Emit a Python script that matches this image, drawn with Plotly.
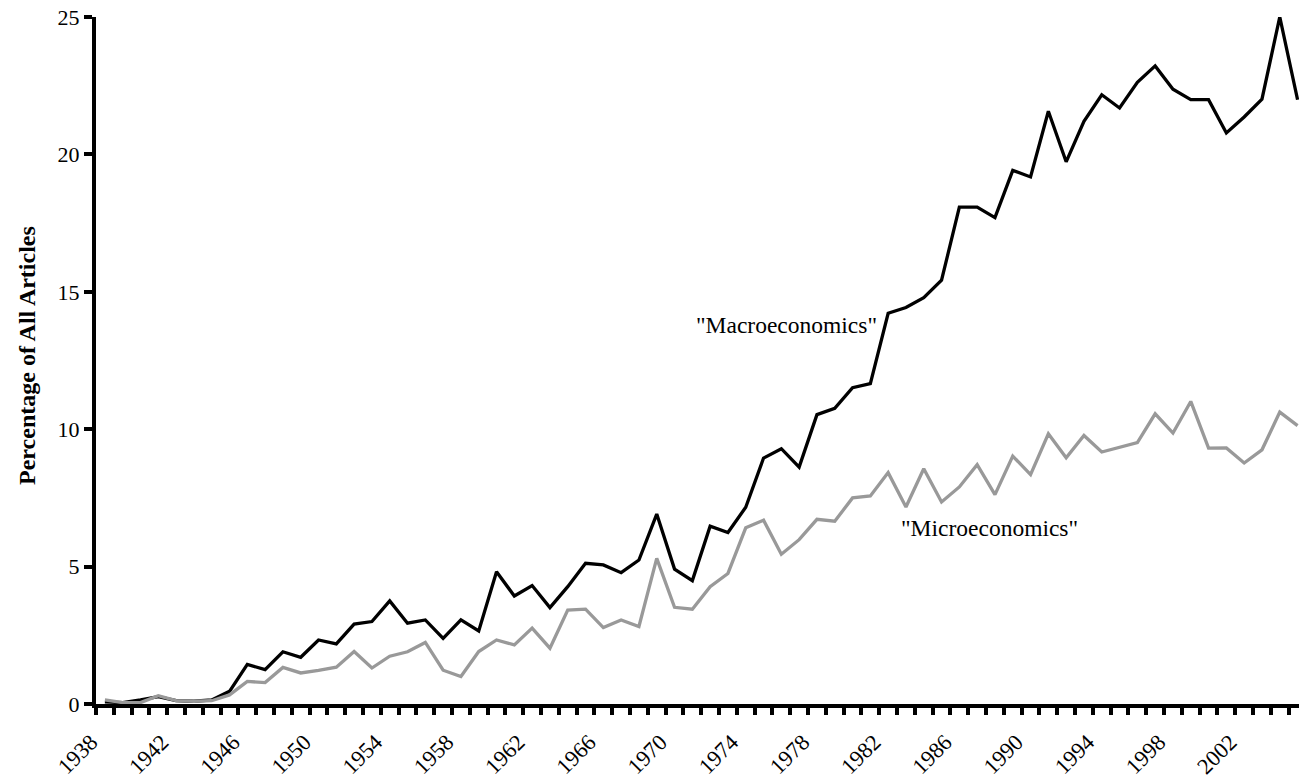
import plotly.graph_objects as go

years = [1938, 1939, 1940, 1941, 1942, 1943, 1944, 1945, 1946, 1947,
         1948, 1949, 1950, 1951, 1952, 1953, 1954, 1955, 1956, 1957,
         1958, 1959, 1960, 1961, 1962, 1963, 1964, 1965, 1966, 1967,
         1968, 1969, 1970, 1971, 1972, 1973, 1974, 1975, 1976, 1977,
         1978, 1979, 1980, 1981, 1982, 1983, 1984, 1985, 1986, 1987,
         1988, 1989, 1990, 1991, 1992, 1993, 1994, 1995, 1996, 1997,
         1998, 1999, 2000, 2001, 2002, 2003, 2004, 2005]

macro = [0.08, 0.05, 0.15, 0.27, 0.12, 0.10, 0.15, 0.46, 1.44, 1.25,
         1.90, 1.70, 2.33, 2.19, 2.91, 3.00, 3.75, 2.94, 3.06, 2.39,
         3.06, 2.66, 4.81, 3.93, 4.31, 3.51, 4.27, 5.12, 5.06, 4.78,
         5.24, 6.91, 4.91, 4.49, 6.47, 6.24, 7.16, 8.95, 9.29, 8.62,
         10.53, 10.76, 11.51, 11.66, 14.22, 14.43, 14.79, 15.42, 18.08, 18.08,
         17.70, 19.42, 19.18, 21.57, 19.73, 21.20, 22.17, 21.69, 22.62, 23.22,
         22.37, 21.99, 21.99, 20.78, 21.36, 22.01, 25.00, 21.99]

micro = [0.15, 0.05, 0.05, 0.30, 0.12, 0.10, 0.12, 0.33, 0.82, 0.78,
         1.33, 1.13, 1.22, 1.34, 1.91, 1.31, 1.74, 1.90, 2.24, 1.23,
         1.00, 1.91, 2.33, 2.15, 2.76, 2.03, 3.42, 3.45, 2.78, 3.06,
         2.82, 5.30, 3.52, 3.45, 4.27, 4.75, 6.41, 6.69, 5.45, 5.98,
         6.72, 6.65, 7.50, 7.57, 8.42, 7.17, 8.56, 7.35, 7.90, 8.71,
         7.62, 9.02, 8.35, 9.83, 8.96, 9.77, 9.17, 9.34, 9.51, 10.56,
         9.86, 11.01, 9.31, 9.32, 8.77, 9.25, 10.62, 10.13]

x_tick_years = [1938, 1942, 1946, 1950, 1954, 1958, 1962, 1966, 1970,
                1974, 1978, 1982, 1986, 1990, 1994, 1998, 2002]
x_tick_labels = ["1938", "1942", "1946", "1950", "1954", "1958", "1962", "1966", "1970",
                 "1974", "1978", "1982", "1986", "1990", "1994", "1998", "2002"]
y_ticks = [0, 5, 10, 15, 20, 25]

FONT = "Liberation Serif, Times New Roman, serif"

fig = go.Figure()
fig.add_trace(go.Scatter(x=years, y=macro, mode="lines", name="Macroeconomics",
                         line=dict(color="#000000", width=3.3), showlegend=False))
fig.add_trace(go.Scatter(x=years, y=micro, mode="lines", name="Microeconomics",
                         line=dict(color="#999999", width=3.3), showlegend=False))

fig.add_annotation(x=1976.3, y=13.8, xref="x", yref="y", text='"Macroeconomics"',
                   showarrow=False, xanchor="center", yanchor="middle",
                   font=dict(family=FONT, size=23.5, color="#000000"))
fig.add_annotation(x=1987.7, y=6.42, xref="x", yref="y", text='"Microeconomics"',
                   showarrow=False, xanchor="center", yanchor="middle",
                   font=dict(family=FONT, size=23.5, color="#000000"))
fig.add_annotation(x=-0.0574, y=0.508, xref="paper", yref="paper",
                   text="<b>Percentage of All Articles</b>", textangle=-90,
                   showarrow=False, xanchor="center", yanchor="middle",
                   font=dict(family=FONT, size=24, color="#000000"))

fig.update_layout(
    width=1299, height=779,
    margin=dict(l=96, r=0, t=17, b=73),
    paper_bgcolor="white", plot_bgcolor="white",
    font=dict(family=FONT, size=22, color="#000000"),
    hovermode=False,
    xaxis=dict(
        range=[1937.5, 2005.08],
        tickmode="array", tickvals=x_tick_years, ticktext=x_tick_labels,
        tickangle=-45, ticks="", showgrid=False, zeroline=False,
        showline=True, linewidth=4, linecolor="#000000",
        ticklabelstandoff=12, ticklabelshift=-14,
        tickfont=dict(family=FONT, size=22.5, color="#000000"),
        minor=dict(tickmode="linear", tick0=1937.5, dtick=1, ticks="outside",
                   ticklen=7, tickwidth=4, tickcolor="#000000", showgrid=False),
    ),
    yaxis=dict(
        range=[0, 25], tickmode="array", tickvals=y_ticks,
        ticks="outside", ticklen=8, tickwidth=4, tickcolor="#000000",
        showgrid=False, zeroline=False,
        showline=True, linewidth=4, linecolor="#000000",
        tickfont=dict(family=FONT, size=22, color="#000000"),
    ),
)

fig.write_html(
    "out.html",
    config={"displayModeBar": False},
    post_script="document.body.style.margin='0';document.body.style.overflow='hidden';",
)
